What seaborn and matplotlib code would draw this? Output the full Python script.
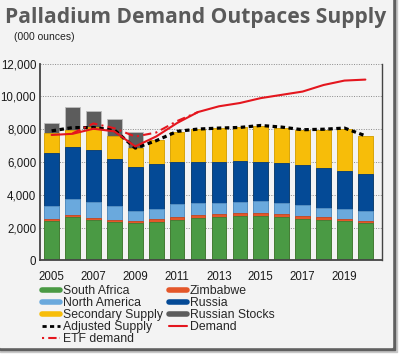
import numpy as np
import pandas as pd
import seaborn as sns
import matplotlib.pyplot as plt
from matplotlib.lines import Line2D
from matplotlib.patches import Rectangle
from matplotlib.ticker import FuncFormatter

# palladium supply / demand, thousand ounces
years = list(range(2005, 2021))
south_africa = [2400, 2670, 2460, 2360, 2260, 2360, 2460, 2570, 2650, 2730, 2730, 2630, 2530, 2460, 2400, 2260]
zimbabwe = [120, 100, 110, 90, 140, 140, 210, 200, 200, 180, 180, 220, 200, 170, 130, 120]
north_america = [800, 980, 1010, 890, 610, 630, 770, 720, 650, 660, 740, 670, 650, 570, 590, 620]
russia = [3220, 3180, 3180, 2840, 2690, 2740, 2550, 2500, 2480, 2520, 2380, 2390, 2430, 2440, 2340, 2240]
secondary_supply = [1260, 1040, 1350, 1380, 1180, 1490, 1840, 2020, 2090, 2040, 2180, 2160, 2140, 2310, 2570, 2360]
russian_stocks = [580, 1390, 1020, 1080, 980, 0, 0, 0, 0, 0, 0, 0, 0, 0, 0, 0]

adjusted_supply = [7900, 8100, 8100, 7950, 6850, 7300, 7870, 8010, 8070, 8110, 8230, 8130, 7970, 8000, 8070, 7600]
demand = [7650, 7720, 8030, 7870, 6950, 7560, 8380, 9050, 9400, 9600, 9900, 10100, 10300, 10700, 10970, 11030]
etf_years = list(range(2006, 2013))
etf_demand = [7750, 8350, 8060, 7550, 7800, 8500, 9050]

series = ["South Africa", "Zimbabwe", "North America", "Russia", "Secondary Supply", "Russian Stocks"]
colors = ["#4a9a44", "#e4572a", "#6aa9dd", "#044a96", "#f7bd09", "#5c5c5c"]
edges = ["#3a7f36", "#c4461f", "#5a93c4", "#033a78", "#d9a300", "#bdbdbd"]

df = pd.DataFrame({"year": years, "South Africa": south_africa, "Zimbabwe": zimbabwe,
                   "North America": north_america, "Russia": russia,
                   "Secondary Supply": secondary_supply, "Russian Stocks": russian_stocks})

# running totals so the stacks can be drawn tallest first
cum = df[series].cumsum(axis=1)
cum["year"] = df["year"]

sns.set_style("white")
plt.rcParams["font.family"] = ["Liberation Sans Narrow", "Liberation Sans", "DejaVu Sans"]

W, H = 407, 360
fig = plt.figure(figsize=(W / 100, H / 100), dpi=100, facecolor="white")

# panel with the dark edge + shadow
fig.patches.append(Rectangle((0, 0), 1, 1, transform=fig.transFigure, color="white", zorder=-5))
fig.patches.append(Rectangle((0, (H - 352) / H), 397 / W, 1, transform=fig.transFigure,
                             color="#c8c8c8", zorder=-4))
fig.patches.append(Rectangle((0, (H - 349.5) / H), 394.5 / W, 1, transform=fig.transFigure,
                             color="#606060", zorder=-3))
fig.patches.append(Rectangle((0, (H - 347) / H), 392 / W, 1, transform=fig.transFigure,
                             color="#f3f3f3", zorder=-2))

ax = fig.add_axes([39.7 / W, (H - 260.3) / H, 342 / W, 196.6 / H])
ax.patch.set_alpha(0)

for i in range(len(series) - 1, -1, -1):
    sns.barplot(data=cum, x="year", y=series[i], native_scale=True, color=colors[i],
                saturation=1, width=0.7, edgecolor=edges[i], linewidth=0.6, ax=ax, zorder=2 + (5 - i) * 0.01)

sns.lineplot(x=years, y=adjusted_supply, color="black", lw=2.3, ax=ax, zorder=5,
             linestyle=(0, (1.4, 1.1)))
sns.lineplot(x=years, y=demand, color="#e4161e", lw=1.5, ax=ax, zorder=6)
sns.lineplot(x=etf_years, y=etf_demand, color="#e4161e", lw=1.5, ax=ax, zorder=6,
             linestyle=(0, (4, 2, 1, 2)))

ax.set_xlim(2004.43, 2020.78)
ax.set_ylim(0, 12000)
ax.set_xticks(range(2005, 2020, 2))
ax.set_yticks(range(0, 12001, 2000))
ax.yaxis.set_major_formatter(FuncFormatter(lambda v, p: f"{int(v):,}"))
ax.set_xlabel("")
ax.set_ylabel("")
ax.tick_params(length=0, labelsize=8.3, colors="#1a1a1a")
ax.tick_params(axis="y", pad=2.5)
ax.tick_params(axis="x", pad=8)
ax.grid(axis="y", color="#8a8a8a", linestyle=(0, (1, 1.5)), lw=0.7, zorder=0)
ax.set_axisbelow(True)
for s in ["left", "bottom", "right"]:
    ax.spines[s].set_visible(True)
    ax.spines[s].set_color("#444444")
ax.spines["left"].set_linewidth(1.3)
ax.spines["bottom"].set_linewidth(1.3)
ax.spines["right"].set_linewidth(1.0)
ax.spines["top"].set_visible(False)

fig.text(5 / W, 1 - 18 / H, "Palladium Demand Outpaces Supply", fontsize=15.1, weight="bold",
         color="#5a5a5a", va="center", ha="left", family=["Open Sans", "DejaVu Sans"])
fig.text(14 / W, 1 - 37 / H, "(000 ounces)", fontsize=7.5, color="#222222", va="center")

handles = [Line2D([], [], color=colors[0], lw=4),
           Line2D([], [], color=colors[2], lw=4),
           Line2D([], [], color=colors[4], lw=4),
           Line2D([], [], color="black", lw=2, linestyle=(0, (1.5, 1.2))),
           Line2D([], [], color="#e4161e", lw=1.5, linestyle=(0, (1, 2, 4, 1.5))),
           Line2D([], [], color=colors[1], lw=4),
           Line2D([], [], color=colors[3], lw=4),
           Line2D([], [], color=colors[5], lw=4),
           Line2D([], [], color="#e4161e", lw=1.5)]
labels = ["South Africa", "North America", "Secondary Supply", "Adjusted Supply", "ETF demand",
          "Zimbabwe", "Russia", "Russian Stocks", "Demand"]
fig.legend(handles, labels, loc="upper left", bbox_to_anchor=(42 / W, 1 - 285 / H), ncol=2,
           frameon=False, fontsize=8.8, handlelength=1.45, handletextpad=0.25, labelspacing=0.0,
           columnspacing=0.5, borderaxespad=0, borderpad=0)

fig.savefig("out.png", dpi=100, facecolor="white")
